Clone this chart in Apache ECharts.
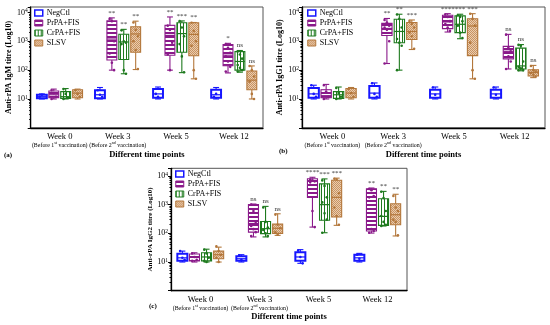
<!DOCTYPE html>
<html><head><meta charset="utf-8">
<script src="https://cdn.jsdelivr.net/npm/echarts@6/dist/echarts.min.js"></script>
<style>html,body{margin:0;padding:0;background:#fff}#c{width:550px;height:325px}</style>
</head><body><div id="c"></div>
<script>
// ---------- categories / labels ----------
const weeks = ['Week 0', 'Week 3', 'Week 5', 'Week 12'];
const weekNotes = [['1', 'st'], ['2', 'nd'], null, null];
const groups = ['NegCtl', 'PrPA+FIS', 'CrPA+FIS', 'SLSV'];
const yTitles = ['Anti-rPA IgM titre (Log10)', 'Anti-rPA IgG1 titre (Log10)', 'Anti-rPA IgG2 titre (Log10)'];
const xTitle = 'Different time points';
const panelTags = ['(a)', '(b)', '(c)'];

// ---------- box stats: [min, q1, median, q3, max] for Week 0, 3, 5, 12 ----------
// (a) IgM
const igmNegCtl = [[10, 10.5, 12, 14, 15], [10, 10.5, 14, 20, 25], [10, 11, 15, 22, 26], [10, 11, 14, 21, 25]];
const igmPrPA   = [[10, 11, 14, 19, 22], [100, 225, 1200, 5100, 6500], [100, 330, 1600, 3600, 7000], [80, 142, 330, 780, 850]];
const igmCrPA   = [[10, 10.5, 12, 18, 23], [75, 235, 950, 1750, 2600], [82, 420, 1850, 4400, 5100], [85, 100, 200, 440, 480]];
const igmSLSV   = [[10, 11, 16, 21, 22], [105, 420, 1800, 3200, 5000], [50, 315, 1740, 4400, 4500], [10, 21, 45, 93, 140]];
// (b) IgG1
const igg1NegCtl = [[10, 11, 15, 24, 30], [10, 11, 16, 28, 36], [10, 11, 15, 21, 26], [10, 11, 15, 21, 26]];
const igg1PrPA   = [[10, 11, 13, 21, 32], [170, 1600, 2800, 4200, 6200], [2100, 2750, 4700, 8000, 9100], [110, 245, 450, 670, 1740]];
const igg1CrPA   = [[10, 10.5, 14, 18, 26], [100, 890, 2200, 5800, 8700], [1230, 2000, 3900, 7600, 8700], [95, 110, 140, 580, 770]];
const igg1SLSV   = [[10, 11, 16, 23, 25], [520, 1150, 2200, 4500, 5500], [50, 320, 3400, 6100, 9100], [55, 63, 83, 103, 146]];
// (c) IgG2
const igg2NegCtl = [[10, 11, 14, 19.5, 24], [10, 11, 13, 16, 18], [9, 11, 15, 22, 27], [10, 11, 14, 18, 20]];
const igg2PrPA   = [[10, 11, 15, 19, 21], [75, 110, 220, 1000, 1050], [165, 1800, 5000, 8000, 9000], [102, 120, 1900, 3600, 3800]];
const igg2CrPA   = [[10, 11, 15, 21, 28], [75, 98, 145, 260, 870], [105, 285, 1000, 5300, 7900], [180, 190, 390, 1600, 2900]];
const igg2SLSV   = [[10, 13, 18, 24, 33], [85, 100, 150, 210, 480], [190, 370, 1800, 7100, 8400], [81, 200, 445, 1070, 2300]];

// ---------- individual animals (approx.) per week ----------
const igmNegCtlPts = [[12, 14], [20, 14, 12], [15, 12], [12, 15]];
const igmPrPAPts   = [[20, 16, 12, 10], [6000, 5000, 1000, 380, 180, 100], [3500, 2500, 900, 350, 100], [800, 600, 400, 300, 200, 130, 90]];
const igmCrPAPts   = [[22, 15, 11, 10], [2400, 1000, 900, 800, 100, 75], [5000, 3000, 1500, 800, 300, 85], [450, 350, 250, 150, 120, 100, 90]];
const igmSLSVPts   = [[20, 15, 12], [4500, 2500, 1500, 1000, 500, 110], [4400, 2300, 1000, 700, 100, 50], [140, 100, 60, 40, 15, 10]];
const igg1NegCtlPts = [[30, 15, 12], [35, 15, 12], [25, 14], [25, 14]];
const igg1PrPAPts   = [[30, 18, 12, 10], [5500, 4500, 3500, 3000, 2500, 1000, 170], [8500, 7000, 5000, 4000, 3000, 2300], [1700, 600, 450, 400, 300, 200, 110]];
const igg1CrPAPts   = [[24, 16, 12, 10], [8500, 6000, 3000, 1200, 900, 700, 100], [8000, 7000, 5000, 3500, 2000, 1300], [750, 700, 200, 130, 115, 100, 100]];
const igg1SLSVPts   = [[22, 16, 12], [5000, 4000, 3000, 2000, 1500, 550], [9000, 6000, 3500, 900, 100, 50], [140, 100, 90, 80, 70, 60]];
const igg2NegCtlPts = [[24, 14, 12], [17, 12], [25, 15, 9], [18, 13]];
const igg2PrPAPts   = [[20, 15, 12, 11], [1000, 600, 250, 180, 140, 110, 80], [7500, 7000, 6500, 6000, 600, 165], [3500, 3200, 2000, 1800, 140, 120, 105]];
const igg2CrPAPts   = [[27, 20, 14, 11, 10], [800, 250, 160, 130, 100, 80], [7000, 4500, 1800, 1200, 500, 300, 105], [2800, 1700, 600, 400, 250, 200, 180]];
const igg2SLSVPts   = [[35, 24, 18, 14, 10], [450, 200, 150, 110, 90], [8000, 7500, 2500, 800, 400, 200], [2000, 800, 600, 300, 250, 85]];

// ---------- significance labels ----------
const igmSig  = [['', '', '', ''], ['', '**', '**', '*'], ['', '**', '***', 'ns'], ['', '**', '**', 'ns']];
const igg1Sig = [['', '', '', ''], ['', '**', '****', 'ns'], ['', '**', '***', 'ns'], ['', '***', '***', 'ns']];
const igg2Sig = [['', '', '', ''], ['', 'ns', '****', '**'], ['', 'ns', '***', '**'], ['', 'ns', '***', '**']];

// ---------- assemble ----------
const panelStats = [[igmNegCtl, igmPrPA, igmCrPA, igmSLSV], [igg1NegCtl, igg1PrPA, igg1CrPA, igg1SLSV], [igg2NegCtl, igg2PrPA, igg2CrPA, igg2SLSV]];
const panelPts = [[igmNegCtlPts, igmPrPAPts, igmCrPAPts, igmSLSVPts], [igg1NegCtlPts, igg1PrPAPts, igg1CrPAPts, igg1SLSVPts], [igg2NegCtlPts, igg2PrPAPts, igg2CrPAPts, igg2SLSVPts]];
const panelSig = [igmSig, igg1Sig, igg2Sig];

const SERIF = '"Liberation Serif", "DejaVu Serif", serif';
const colors = ['#1616ff', '#8a1a8a', '#1e7a1e', '#b3773b'];

function pattern(w, h, draw) {
  const c = document.createElement('canvas');
  c.width = w; c.height = h;
  const x = c.getContext('2d');
  x.fillStyle = '#fff'; x.fillRect(0, 0, w, h);
  draw(x);
  return { image: c, repeat: 'repeat' };
}
const fills = [
  '#ffffff',
  pattern(4, 4, x => { x.fillStyle = colors[1]; x.fillRect(0, 0, 4, 2); }),
  pattern(3, 3, x => { x.fillStyle = colors[2]; x.fillRect(0, 0, 1, 3); }),
  pattern(2, 2, x => { x.fillStyle = '#e9cdae'; x.fillRect(0, 0, 2, 2); x.fillStyle = '#c99262'; x.fillRect(0, 0, 1, 1); x.fillRect(1, 1, 1, 1); })
];

const grids = [
  { left: 30.7, top: 7, width: 232.3, height: 120.8 },
  { left: 302, top: 7, width: 243, height: 120.8 },
  { left: 171, top: 168.3, width: 236, height: 122.4 }
];
const yMaxes = [15500, 15500, 18500];
const legendPos = [{ left: 34, top: 9 }, { left: 307, top: 9 }, { left: 175, top: 170 }];
const tagPos = [[4, 156], [279, 152], [149, 307]];
const yNameGap = [17, 16, 16];

function makeRender(g, pts, sig) {
  return function (params, api) {
    const w = api.value(0);
    const band = api.size([1, 0])[0];
    const c = api.coord([w, api.value(3)]);
    const x = c[0] + (g - 1.5) * band * 0.205;
    const Y = i => api.coord([w, api.value(i)])[1];
    const yMin = Y(1), yQ1 = Y(2), yMed = Y(3), yQ3 = Y(4), yMax = Y(5);
    const hw = band * 0.085, cw = hw * 0.6;
    const col = colors[g];
    const lw = g === 0 ? 2 : 1.1;
    const ls = { stroke: col, lineWidth: 1.1 };
    const ch = [
      { type: 'line', shape: { x1: x, y1: yMax, x2: x, y2: yQ3 }, style: ls },
      { type: 'line', shape: { x1: x, y1: yQ1, x2: x, y2: yMin }, style: ls },
      { type: 'line', shape: { x1: x - cw, y1: yMax, x2: x + cw, y2: yMax }, style: ls },
      { type: 'line', shape: { x1: x - cw, y1: yMin, x2: x + cw, y2: yMin }, style: ls },
      { type: 'rect', shape: { x: x - hw, y: yQ3, width: 2 * hw, height: Math.max(yQ1 - yQ3, 1) }, style: { fill: fills[g], stroke: col, lineWidth: lw } },
      { type: 'line', shape: { x1: x - hw, y1: yMed, x2: x + hw, y2: yMed }, style: { stroke: col, lineWidth: 1.2 } }
    ];
    (pts[w] || []).forEach((v, k) => {
      const py = api.coord([w, v])[1];
      const px = x + ((k % 3) - 1) * hw * 0.45;
      ch.push({ type: 'circle', shape: { cx: px, cy: py, r: 1.3 }, style: { fill: col } });
    });
    const s = sig[w];
    if (s) {
      ch.push({ type: 'text', style: { x: x, y: yMax - 1.5, text: s, fill: '#333', font: '7px ' + SERIF, align: 'center', verticalAlign: 'bottom' } });
    }
    return { type: 'group', children: ch };
  };
}

const series = [];
for (let p = 0; p < 3; p++) {
  for (let g = 0; g < 4; g++) {
    series.push({
      type: 'custom', name: groups[g], xAxisIndex: p, yAxisIndex: p,
      data: panelStats[p][g].map((s, w) => [w].concat(s)),
      encode: { x: 0, y: [1, 2, 3, 4, 5] },
      renderItem: makeRender(g, panelPts[p][g], panelSig[p][g]),
      itemStyle: { color: colors[g] },
      animation: false, silent: true
    });
  }
}

const xAxes = grids.map((gr, p) => ({
  type: 'category', gridIndex: p, data: weeks,
  axisLine: { lineStyle: { color: '#000', width: 1.3 } },
  axisTick: { alignWithLabel: true, length: 3, lineStyle: { color: '#000' } },
  splitLine: { show: false },
  axisLabel: {
    interval: 0, margin: 4, color: '#000', fontFamily: SERIF,
    formatter: function (v) {
      const i = weeks.indexOf(v);
      const n = weekNotes[i];
      let s = '{w|' + v + '}';
      if (n) s += '\n{s|(Before ' + n[0] + '}{sup|' + n[1] + '}{s| vaccination)}';
      return s;
    },
    rich: {
      w: { fontSize: 8.5, lineHeight: 9.5, fontFamily: SERIF, color: '#000' },
      s: { fontSize: 5.9, lineHeight: 8, fontFamily: SERIF, color: '#000' },
      sup: { fontSize: 4, lineHeight: 8, verticalAlign: 'top', fontFamily: SERIF, color: '#000' }
    }
  },
  name: xTitle, nameLocation: 'middle', nameGap: p === 2 ? 19 : 22,
  nameTextStyle: { fontFamily: SERIF, fontWeight: 'bold', fontSize: 8.5, color: '#000' }
}));

const yAxes = grids.map((gr, p) => ({
  type: 'log', logBase: 10, gridIndex: p, min: 1, max: yMaxes[p],
  axisLine: { show: true, lineStyle: { color: '#000', width: 1.3 } },
  axisTick: { show: true, length: 3, lineStyle: { color: '#000' } },
  minorTick: { show: true, splitNumber: 9, length: 1.5, lineStyle: { color: '#000' } },
  splitLine: { show: false },
  axisLabel: {
    margin: 3, color: '#000', fontFamily: SERIF,
    formatter: function (v) {
      const l = Math.log10(v);
      const e = Math.round(l);
      if (Math.abs(l - e) > 1e-6 || e === 0) return '';
      return '{b|10}{e|' + e + '}';
    },
    rich: {
      b: { fontSize: 8, lineHeight: 9, fontFamily: SERIF, color: '#000' },
      e: { fontSize: 5.5, lineHeight: 9, verticalAlign: 'top', fontFamily: SERIF, color: '#000' }
    }
  },
  name: yTitles[p], nameLocation: 'middle', nameGap: yNameGap[p],
  nameTextStyle: { fontFamily: SERIF, fontWeight: 'bold', fontSize: p === 2 ? 7 : 8, color: '#000' }
}));

const legends = legendPos.map(pos => ({
  orient: 'vertical', left: pos.left, top: pos.top, itemWidth: 8, itemHeight: 6, itemGap: 2,
  selectedMode: false, padding: 0,
  textStyle: { fontFamily: SERIF, fontSize: 8, color: '#000', padding: [0, 0, 0, -1] },
  data: groups.map((name, k) => ({ name: name, icon: 'rect', itemStyle: { color: fills[k], borderColor: colors[k], borderWidth: k === 0 ? 1.5 : 1 } }))
}));

const option = {
  animation: false,
  backgroundColor: '#fff',
  grid: grids.map(g => Object.assign({ show: true, borderColor: '#555', borderWidth: 1, backgroundColor: 'transparent' }, g)),
  xAxis: xAxes,
  yAxis: yAxes,
  legend: legends,
  series: series,
  graphic: panelTags.map((t, i) => ({
    type: 'text', left: tagPos[i][0], top: tagPos[i][1] - 4,
    style: { text: t, font: 'bold 7px ' + SERIF, fill: '#000' }
  }))
};

const chart = echarts.init(document.getElementById('c'), null, { renderer: 'canvas' });
chart.setOption(option);
</script>
</body></html>
